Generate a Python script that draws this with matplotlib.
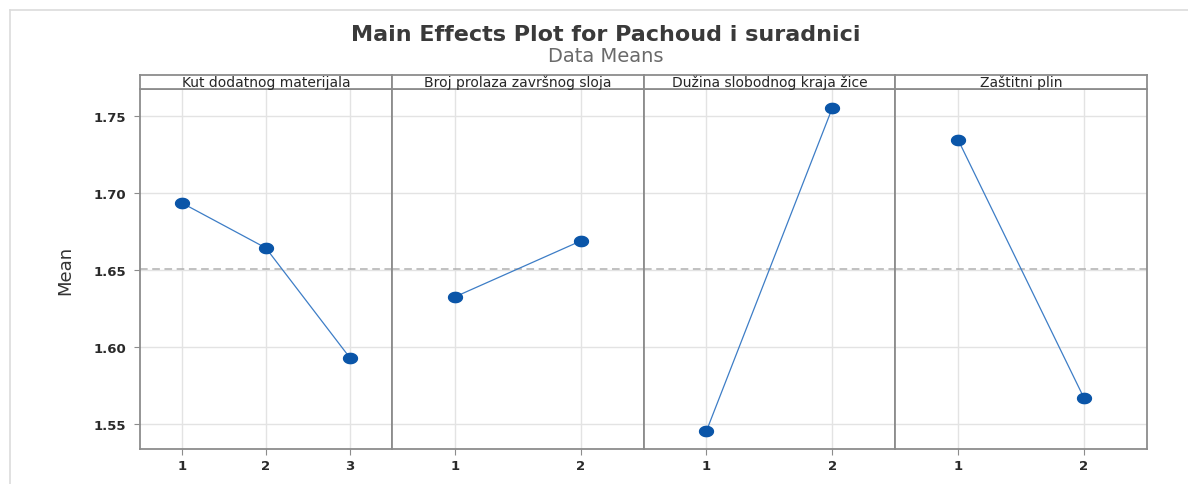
import numpy as np
import matplotlib
matplotlib.use("Agg")
import matplotlib.pyplot as plt
from matplotlib.path import Path
from matplotlib.lines import Line2D

# factor names and level means
factors = ["Kut dodatnog materijala", "Broj prolaza završnog sloja",
           "Dužina slobodnog kraja žice", "Zaštitni plin"]
levels = [[1, 2, 3], [1, 2], [1, 2], [1, 2]]
means = [[1.6937, 1.6645, 1.5933],
         [1.6327, 1.6690],
         [1.5457, 1.7554],
         [1.7346, 1.5670]]
grand_mean = 1.6506
yticks = [1.55, 1.60, 1.65, 1.70, 1.75]

W, H = 1188, 485
fig = plt.figure(figsize=(W / 100, H / 100), dpi=100)

# slightly wide oval marker
t = np.linspace(0, 2 * np.pi, 40)
oval = Path(np.column_stack([1.35 * np.cos(t), np.sin(t)]), closed=True)

left, right, top, bottom, strip_h = 140, 1147, 90, 450, 14
pw = (right - left) / len(factors)
frame_col = "#8c8c8c"
tick_font = dict(family="DejaVu Sans", weight="bold", size=9.5, color="#2a2a2a")

for i, (name, lv, m) in enumerate(zip(factors, levels, means)):
    x0 = left + i * pw
    ax = fig.add_axes([x0 / W, 1 - bottom / H, pw / W, (bottom - top) / H])
    ax.set_xlim(0.5, len(lv) + 0.5)
    ax.set_ylim(1.534, 1.7677)
    ax.set_xticks(lv)
    ax.set_xticklabels([str(v) for v in lv], fontdict=tick_font)
    ax.set_yticks(yticks)
    ax.grid(True, color="#e3e3e3", linewidth=1.0)
    ax.set_axisbelow(True)
    ax.axhline(grand_mean, color="#b0b0b0", linestyle=(0, (5, 3)), linewidth=1.1, zorder=1)
    ax.plot(lv, m, color="#3d7dc6", linewidth=0.9, zorder=3)
    ax.plot(lv, m, linestyle="none", marker=oval, markersize=10,
            color="#0a55a8", markeredgecolor="#0a55a8", zorder=4)
    for s in ax.spines.values():
        s.set_color(frame_col)
        s.set_linewidth(1.3)
    ax.tick_params(axis="x", length=4, color=frame_col, pad=3)
    if i == 0:
        ax.set_yticklabels([f"{v:.2f}" for v in yticks], fontdict=tick_font)
        ax.tick_params(axis="y", length=4, color=frame_col, pad=6)
        ax.set_ylabel("Mean", family="DejaVu Sans", fontsize=13,
                      color="#333333", labelpad=14)
    else:
        ax.tick_params(axis="y", length=0, labelleft=False)

    # strip with the factor name
    sx = fig.add_axes([x0 / W, 1 - top / H, pw / W, strip_h / H])
    sx.set_xticks([])
    sx.set_yticks([])
    for s in sx.spines.values():
        s.set_color(frame_col)
        s.set_linewidth(1.3)
    sx.text(0.5, 0.5, name, ha="center", va="center", fontsize=10,
            family="DejaVu Sans", color="#262626")

fig.text(606 / W, 1 - 35 / H, "Main Effects Plot for Pachoud i suradnici",
         ha="center", va="center", fontsize=16, family="DejaVu Sans",
         weight="bold", color="#3a3a3a")
fig.text(606 / W, 1 - 56 / H, "Data Means", ha="center", va="center",
         fontsize=14, family="DejaVu Sans", color="#6a6a6a")

# outer frame edges
fig.add_artist(Line2D([10 / W, 1], [1 - 11 / H, 1 - 11 / H], color="#dcdcdc", linewidth=1.2))
fig.add_artist(Line2D([10 / W, 10 / W], [0, 1 - 11 / H], color="#dcdcdc", linewidth=1.2))

fig.savefig("out.png", dpi=100)
